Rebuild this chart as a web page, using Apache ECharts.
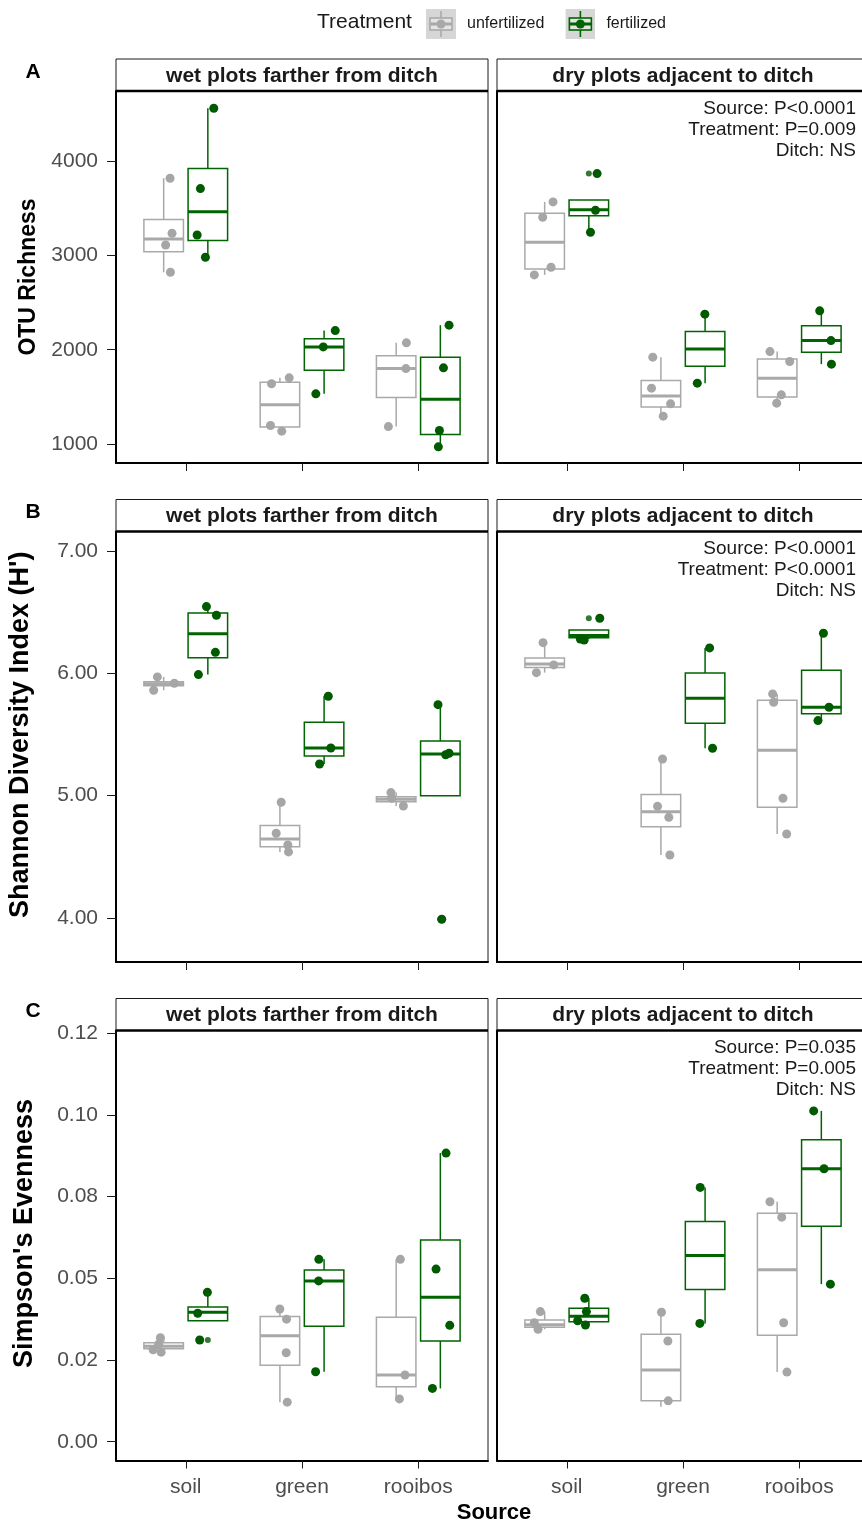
<!DOCTYPE html>
<html>
<head>
<meta charset="utf-8">
<script src="https://cdn.jsdelivr.net/npm/echarts@6/dist/echarts.min.js"></script>
<style>
  html, body { margin: 0; padding: 0; background: #fff; }
  #chart { width: 862px; height: 1526px; }
</style>
</head>
<body>
<div id="chart"></div>
<script>
// categories
const sources = ['soil', 'green', 'rooibos'];
const treatments = ['unfertilized', 'fertilized'];
const facets = ['wet plots farther from ditch', 'dry plots adjacent to ditch'];

// tick labels
const richTickVals = [1000, 2000, 3000, 4000];
const richTickLabels = ['1000', '2000', '3000', '4000'];
const shanTickVals = [4, 5, 6, 7];
const shanTickLabels = ['4.00', '5.00', '6.00', '7.00'];
const simpTickVals = [0, 0.025, 0.05, 0.075, 0.1, 0.125];
const simpTickLabels = ['0.00', '0.02', '0.05', '0.08', '0.10', '0.12'];

// stats text
const richNote = ['Source: P<0.0001', 'Treatment: P=0.009', 'Ditch: NS'];
const shanNote = ['Source: P<0.0001', 'Treatment: P<0.0001', 'Ditch: NS'];
const simpNote = ['Source: P=0.035', 'Treatment: P=0.005', 'Ditch: NS'];

// box stats per source: [low whisker, Q1, median, Q3, high whisker]
// points: [x position incl. jitter, value]; outliers: [source no., value]

// OTU richness
const richWetUnfBox = [[2821, 3038, 3172, 3380, 3817], [1137, 1182, 1418, 1655, 1702], [1186, 1493, 1800, 1937, 2073]];
const richWetFerBox = [[2980, 3157, 3462, 3920, 4558], [1533, 1782, 2030, 2117, 2203], [971, 1101, 1476, 1921, 2260]];
const richWetUnfPts = [[0.865, 3817], [0.882, 3234], [0.827, 3110], [0.868, 2821], [1.738, 1639], [1.890, 1702], [1.729, 1197], [1.826, 1137], [2.898, 2073], [2.894, 1800], [2.743, 1186]];
const richWetFerPts = [[1.241, 4558], [1.126, 3707], [1.098, 3216], [1.169, 2980], [2.286, 2203], [2.183, 2030], [2.119, 1533], [3.265, 2260], [3.217, 1808], [3.182, 1144], [3.173, 971]];
const richDryUnfBox = [[2793, 2854, 3139, 3445, 3566], [1296, 1394, 1510, 1675, 1921], [1434, 1500, 1699, 1901, 1980]];
const richDryFerBox = [[3245, 3420, 3484, 3587, 3587], [1646, 1826, 2008, 2194, 2377], [1847, 1972, 2097, 2255, 2412]];
const richDryUnfPts = [[0.882, 3566], [0.793, 3404], [0.865, 2874], [0.721, 2793], [1.740, 1921], [1.729, 1593], [1.893, 1427], [1.830, 1296], [2.748, 1980], [2.918, 1875], [2.846, 1522], [2.806, 1434]];
const richDryFerPts = [[1.261, 3866], [1.247, 3478], [1.204, 3245], [2.188, 2377], [2.123, 1646], [3.176, 2412], [3.273, 2097], [3.277, 1847]];
const richDryFerOut = [[1, 3866]];

// Shannon diversity
const shanWetUnfBox = [[5.861, 5.898, 5.914, 5.931, 5.970], [4.539, 4.582, 4.644, 4.755, 4.945], [4.915, 4.949, 4.969, 4.990, 5.024]];
const shanWetFerBox = [[5.989, 6.126, 6.322, 6.492, 6.545], [5.258, 5.323, 5.389, 5.600, 5.812], [4.998, 4.998, 5.340, 5.445, 5.743]];
const shanWetUnfPts = [[0.756, 5.970], [0.724, 5.861], [0.902, 5.918], [1.821, 4.945], [1.778, 4.692], [1.878, 4.596], [1.884, 4.539], [2.765, 5.024], [2.771, 4.978], [2.872, 4.915]];
const shanWetFerPts = [[1.178, 6.545], [1.264, 6.474], [1.255, 6.171], [1.109, 5.989], [2.226, 5.812], [2.248, 5.389], [2.151, 5.258], [3.170, 5.743], [3.236, 5.334], [3.265, 5.346], [3.202, 3.989]];
const shanWetFerOut = [[3, 3.989]];
const shanDryUnfBox = [[6.005, 6.046, 6.076, 6.125, 6.250], [4.514, 4.745, 4.867, 5.009, 5.299], [4.686, 4.905, 5.371, 5.780, 5.831]];
const shanDryFerBox = [[6.280, 6.291, 6.309, 6.354, 6.354], [5.387, 5.591, 5.795, 6.001, 6.207], [5.613, 5.668, 5.722, 6.025, 6.327]];
const shanDryUnfPts = [[0.796, 6.250], [0.739, 6.005], [0.888, 6.068], [1.824, 5.299], [1.781, 4.912], [1.878, 4.822], [1.887, 4.514], [2.771, 5.831], [2.780, 5.763], [2.860, 4.978], [2.892, 4.686]];
const shanDryFerPts = [[1.284, 6.450], [1.117, 6.280], [1.150, 6.272], [2.229, 6.207], [2.254, 5.387], [3.208, 6.327], [3.256, 5.722], [3.161, 5.613]];
const shanDryFerOut = [[1, 6.450]];

// Simpson's evenness
const simpWetUnfBox = [[0.0274, 0.0284, 0.0292, 0.0303, 0.0318], [0.0121, 0.0234, 0.0324, 0.0383, 0.0406], [0.0131, 0.0168, 0.0204, 0.0381, 0.0558]];
const simpWetFerBox = [[0.0370, 0.0370, 0.0396, 0.0412, 0.0457], [0.0214, 0.0353, 0.0492, 0.0525, 0.0558], [0.0163, 0.0308, 0.0442, 0.0617, 0.0883]];
const simpWetUnfPts = [[0.782, 0.0318], [0.719, 0.0281], [0.788, 0.0274], [0.767, 0.0298], [1.809, 0.0406], [1.867, 0.0375], [1.864, 0.0272], [1.873, 0.0121], [2.846, 0.0558], [2.886, 0.0204], [2.838, 0.0131]];
const simpWetFerPts = [[1.186, 0.0457], [1.103, 0.0393], [1.120, 0.0311], [2.145, 0.0558], [2.143, 0.0492], [2.117, 0.0214], [3.239, 0.0883], [3.153, 0.0528], [3.271, 0.0356], [3.122, 0.0163]];
const simpWetFerOut = [[1, 0.0311]];
const simpDryUnfBox = [[0.0344, 0.0350, 0.0358, 0.0372, 0.0398], [0.0107, 0.0125, 0.0219, 0.0329, 0.0396], [0.0213, 0.0326, 0.0526, 0.0699, 0.0734]];
const simpDryFerBox = [[0.0357, 0.0367, 0.0384, 0.0408, 0.0439], [0.0362, 0.0466, 0.0570, 0.0674, 0.0778], [0.0482, 0.0659, 0.0835, 0.0924, 0.1012]];
const simpDryUnfPts = [[0.773, 0.0398], [0.721, 0.0364], [0.753, 0.0344], [1.815, 0.0396], [1.870, 0.0308], [1.873, 0.0125], [2.748, 0.0734], [2.849, 0.0687], [2.866, 0.0364], [2.894, 0.0213]];
const simpDryFerPts = [[1.155, 0.0439], [1.169, 0.0398], [1.094, 0.0370], [1.161, 0.0357], [2.148, 0.0778], [2.145, 0.0362], [3.124, 0.1012], [3.213, 0.0835], [3.268, 0.0482]];

const FONT = '"Liberation Sans", Arial, Helvetica, sans-serif';
const GREY = '#a9a9a9';
const GREEN = '#006400';
const DODGE = 0.19;
const BOX_W = 0.34;

const GRID_LEFT = [116, 497];
const GRID_W = 372;
const ROW_TOP = [91, 531.5, 1030.5];
const ROW_H = [372, 430.5, 430];

const rows = [
  { min: 800, max: 4741, vals: richTickVals, labels: richTickLabels, title: 'OTU Richness', titleSize: 23, gap: 76, shift: 0, note: richNote, tag: 'A' },
  { min: 3.639, max: 7.159, vals: shanTickVals, labels: shanTickLabels, title: "Shannon Diversity Index (H')", titleSize: 27, gap: 82, shift: 24, note: shanNote, tag: 'B' },
  { min: -0.00575, max: 0.1258, vals: simpTickVals, labels: simpTickLabels, title: "Simpson's Evenness", titleSize: 27, gap: 78, shift: 24, note: simpNote, tag: 'C' }
];

const panels = [
  [richWetUnfBox, richWetFerBox, richWetUnfPts, richWetFerPts, [], []],
  [richDryUnfBox, richDryFerBox, richDryUnfPts, richDryFerPts, [], richDryFerOut],
  [shanWetUnfBox, shanWetFerBox, shanWetUnfPts, shanWetFerPts, [], shanWetFerOut],
  [shanDryUnfBox, shanDryFerBox, shanDryUnfPts, shanDryFerPts, [], shanDryFerOut],
  [simpWetUnfBox, simpWetFerBox, simpWetUnfPts, simpWetFerPts, [], simpWetFerOut],
  [simpDryUnfBox, simpDryFerBox, simpDryUnfPts, simpDryFerPts, [], []]
];

function boxRender(offset, color) {
  return function (params, api) {
    const c = api.value(0) + offset;
    const lo = api.coord([c, api.value(1)]);
    const q1 = api.coord([c, api.value(2)]);
    const md = api.coord([c, api.value(3)]);
    const q3 = api.coord([c, api.value(4)]);
    const hi = api.coord([c, api.value(5)]);
    const w = api.size([BOX_W, 0])[0];
    const x0 = md[0] - w / 2;
    const thin = { stroke: color, lineWidth: 1.5 };
    return {
      type: 'group',
      children: [
        { type: 'line', shape: { x1: md[0], y1: hi[1], x2: md[0], y2: q3[1] }, style: thin },
        { type: 'line', shape: { x1: md[0], y1: q1[1], x2: md[0], y2: lo[1] }, style: thin },
        { type: 'rect', shape: { x: x0, y: q3[1], width: w, height: q1[1] - q3[1] }, style: { fill: 'rgba(255,255,255,0)', stroke: color, lineWidth: 1.5 } },
        { type: 'line', shape: { x1: x0, y1: md[1], x2: x0 + w, y2: md[1] }, style: { stroke: color, lineWidth: 3 } }
      ]
    };
  };
}

function keyIcon(color) {
  const svg = '<svg xmlns="http://www.w3.org/2000/svg" width="30" height="30">' +
    '<rect width="30" height="30" fill="#d6d6d6"/>' +
    '<line x1="15" y1="2" x2="15" y2="28" stroke="' + color + '" stroke-width="1.6"/>' +
    '<rect x="4" y="9" width="22" height="12" fill="#e4e4e4" stroke="' + color + '" stroke-width="1.6"/>' +
    '<line x1="4" y1="15" x2="26" y2="15" stroke="' + color + '" stroke-width="3"/>' +
    '<circle cx="15" cy="15" r="4.5" fill="' + color + '"/></svg>';
  return 'image://data:image/svg+xml;charset=utf-8,' + encodeURIComponent(svg);
}

const grids = [], xAxes = [], yAxes = [], series = [], graphics = [];

panels.forEach((p, i) => {
  const r = Math.floor(i / 2), col = i % 2;
  const row = rows[r];
  grids.push({
    left: GRID_LEFT[col], top: ROW_TOP[r], width: GRID_W, height: ROW_H[r],
    show: true, borderColor: '#1a1a1a', borderWidth: 1, backgroundColor: '#fff',
    containLabel: false, outerBoundsMode: 'none'
  });
  xAxes.push({
    gridIndex: i, type: 'value', min: 0.4, max: 3.6,
    axisLine: { show: true, onZero: false, lineStyle: { color: '#000', width: 2 } },
    axisTick: { show: true, length: 8, customValues: [1, 2, 3], lineStyle: { color: '#1a1a1a', width: 1 } },
    axisLabel: {
      show: r === 2, customValues: [1, 2, 3], margin: 16,
      color: '#4d4d4d', fontSize: 21, fontFamily: FONT,
      formatter: v => sources[Math.round(v) - 1]
    },
    splitLine: { show: false }
  });
  yAxes.push({
    gridIndex: i, type: 'value', min: row.min, max: row.max,
    axisLine: { show: true, onZero: false, lineStyle: { color: '#000', width: 2 } },
    axisTick: { show: col === 0, length: 9, customValues: row.vals, lineStyle: { color: '#1a1a1a', width: 1 } },
    axisLabel: {
      show: col === 0, customValues: row.vals, margin: 18,
      color: '#4d4d4d', fontSize: 21, fontFamily: FONT,
      formatter: v => {
        let k = 0;
        row.vals.forEach((t, j) => { if (Math.abs(t - v) < Math.abs(row.vals[k] - v)) k = j; });
        return row.labels[k];
      }
    },
    splitLine: { show: false },
    name: col === 0 ? row.title : '',
    nameLocation: 'middle', nameRotate: 90, nameGap: row.gap,
    nameTextStyle: { fontFamily: FONT, fontWeight: 'bold', fontSize: row.titleSize, color: '#000', padding: [0, 0, 0, row.shift] }
  });

  [[p[0], -DODGE, GREY], [p[1], DODGE, GREEN]].forEach(([box, off, color], t) => {
    series.push({
      type: 'custom', name: treatments[t], xAxisIndex: i, yAxisIndex: i, z: 2,
      renderItem: boxRender(off, color),
      encode: { x: 0, y: [1, 2, 3, 4, 5] },
      data: box.map((b, s) => [s + 1].concat(b)),
      silent: true
    });
  });
  [[p[2], GREY], [p[3], GREEN]].forEach(([pts, color], t) => {
    series.push({
      type: 'scatter', name: treatments[t], xAxisIndex: i, yAxisIndex: i, z: 4,
      symbol: 'circle', symbolSize: 9, itemStyle: { color: t === 0 ? '#a6a6a6' : '#005a00', opacity: 1 },
      data: pts, silent: true
    });
  });
  [[p[4], -DODGE, '#a6a6a6'], [p[5], DODGE, '#005a00']].forEach(([out, off, color], t) => {
    if (!out.length) return;
    series.push({
      type: 'scatter', name: treatments[t], xAxisIndex: i, yAxisIndex: i, z: 3,
      symbol: 'circle', symbolSize: 6, itemStyle: { color: color },
      data: out.map(o => [o[0] + off, o[1]]), silent: true
    });
  });

  // strip header
  const sx = GRID_LEFT[col], sy = ROW_TOP[r] - 32;
  graphics.push({
    type: 'rect', shape: { x: sx, y: sy, width: GRID_W, height: 32 },
    style: { fill: '#fff', stroke: '#1a1a1a', lineWidth: 1 }, z: 10
  });
  graphics.push({
    type: 'line', shape: { x1: sx, y1: ROW_TOP[r], x2: sx + GRID_W, y2: ROW_TOP[r] },
    style: { stroke: '#000', lineWidth: 2.5 }, z: 11
  });
  graphics.push({
    type: 'text', x: sx + GRID_W / 2, y: sy + 17, z: 12,
    style: { text: facets[col], fontFamily: FONT, fontWeight: 'bold', fontSize: 21, fill: '#1a1a1a', align: 'center', verticalAlign: 'middle' }
  });
  if (col === 1) {
    graphics.push({
      type: 'text', x: 856, y: ROW_TOP[r] + 7, z: 12,
      style: { text: row.note.join('\n'), fontFamily: FONT, fontSize: 19, lineHeight: 21, fill: '#1a1a1a', align: 'right', verticalAlign: 'top' }
    });
  } else {
    graphics.push({
      type: 'text', x: 33, y: sy + 13, z: 12,
      style: { text: row.tag, fontFamily: FONT, fontWeight: 'bold', fontSize: 21, fill: '#000', align: 'center', verticalAlign: 'middle' }
    });
  }
});

graphics.push({
  type: 'text', x: 494, y: 1513,
  style: { text: 'Source', fontFamily: FONT, fontWeight: 'bold', fontSize: 22, fill: '#000', align: 'center', verticalAlign: 'middle' }
});
graphics.push({
  type: 'text', x: 317, y: 22,
  style: { text: 'Treatment', fontFamily: FONT, fontSize: 21, fill: '#1a1a1a', align: 'left', verticalAlign: 'middle' }
});

const chart = echarts.init(document.getElementById('chart'), null, { renderer: 'canvas' });
chart.setOption({
  animation: false,
  backgroundColor: '#fff',
  textStyle: { fontFamily: FONT },
  legend: {
    left: 421, top: 4, orient: 'horizontal',
    itemWidth: 30, itemHeight: 30, itemGap: 21,
    selectedMode: false,
    textStyle: { fontFamily: FONT, fontSize: 16, color: '#1a1a1a', padding: [0, 0, 0, 6] },
    data: [
      { name: treatments[0], icon: keyIcon(GREY) },
      { name: treatments[1], icon: keyIcon(GREEN) }
    ]
  },
  grid: grids,
  xAxis: xAxes,
  yAxis: yAxes,
  series: series,
  graphic: graphics
});
</script>
</body>
</html>
